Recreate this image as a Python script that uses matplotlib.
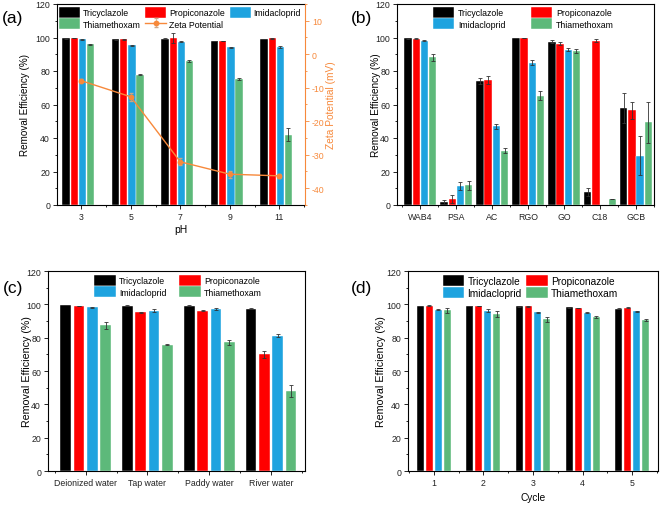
import matplotlib
matplotlib.use("Agg")
import matplotlib.pyplot as plt
import numpy as np
from matplotlib.ticker import MultipleLocator, FixedLocator

plt.rcParams['font.family'] = ['Liberation Sans', 'DejaVu Sans']
plt.rcParams['axes.unicode_minus'] = False

series = ["Tricyclazole", "Propiconazole", "Imidacloprid", "Thiamethoxam"]
colors = ["#000000", "#FF0000", "#1EA3DF", "#5DB97A"]
ZETA_C = "#F7893B"

# (a) pH
ph_labels = ["3", "5", "7", "9", "11"]
a_tri = [99.5, 99.0, 99.2, 98.0, 99.2]
a_pro = [99.8, 99.0, 99.5, 98.0, 99.5]
a_imi = [99.0, 95.5, 97.5, 94.3, 94.5]
a_thi = [96.0, 77.7, 86.0, 75.2, 42.0]
a_tri_err = [0.2, 0.2, 0.3, 0.2, 0.2]
a_pro_err = [0.2, 0.3, 3.0, 0.2, 0.3]
a_imi_err = [0.2, 0.3, 0.3, 0.3, 0.5]
a_thi_err = [0.3, 0.3, 0.4, 0.4, 4.0]
zeta = [-7.9, -12.7, -32.1, -35.8, -36.3]
zeta_err = [0.5, 1.2, 1.0, 1.0, 0.5]

# (b) adsorbents
b_labels = ["WAB4", "PSA", "AC", "RGO", "GO", "C18", "GCB"]
b_tri = [99.5, 1.5, 74.0, 99.7, 97.5, 7.7, 58.0]
b_pro = [99.2, 3.5, 74.8, 99.7, 96.3, 98.2, 56.5]
b_imi = [98.2, 11.3, 47.0, 85.0, 92.7, 0.0, 29.5]
b_thi = [88.2, 11.7, 32.5, 65.3, 92.0, 3.5, 49.3]
b_tri_err = [0.2, 1.5, 2.0, 0.2, 1.0, 2.5, 9.0]
b_pro_err = [0.3, 2.5, 2.5, 0.2, 1.0, 0.7, 5.0]
b_imi_err = [0.4, 2.5, 1.5, 1.5, 1.0, 0.0, 11.5]
b_thi_err = [2.0, 2.5, 1.5, 2.5, 1.0, 0.0, 12.0]

# (c) water matrices
c_labels = ["Deionized water", "Tap water", "Paddy water", "River water"]
c_tri = [99.5, 99.3, 99.3, 97.5]
c_pro = [99.0, 95.3, 96.2, 70.0]
c_imi = [98.2, 96.2, 97.2, 81.2]
c_thi = [87.5, 75.8, 77.2, 48.0]
c_tri_err = [0.1, 0.2, 0.2, 0.1]
c_pro_err = [0.2, 0.3, 0.3, 2.0]
c_imi_err = [0.4, 1.0, 0.4, 1.0]
c_thi_err = [2.0, 0.3, 1.5, 3.5]

# (d) cycles
d_labels = ["1", "2", "3", "4", "5"]
d_tri = [99.0, 99.0, 98.8, 98.2, 97.5]
d_pro = [99.2, 99.0, 98.8, 97.8, 98.0]
d_imi = [96.8, 96.3, 95.3, 95.0, 96.0]
d_thi = [96.5, 94.2, 91.2, 92.3, 90.5]
d_tri_err = [0.1, 0.1, 0.1, 0.1, 0.1]
d_pro_err = [0.2, 0.2, 0.2, 0.2, 0.2]
d_imi_err = [0.2, 0.7, 0.3, 0.3, 0.3]
d_thi_err = [1.5, 1.7, 1.5, 0.7, 0.7]

W, H = 661, 506
fig = plt.figure(figsize=(W / 100, H / 100), dpi=100)


def add_ax(l, r, t, b):
    return fig.add_axes([l / W, 1 - b / H, (r - l) / W, (b - t) / H])


def style_axis(ax, labels, xlim, tick_fs=6.3):
    n = len(labels)
    ax.set_xlim(*xlim)
    ax.set_ylim(0, 120)
    ax.set_xticks(range(n))
    ax.set_xticklabels(labels, fontsize=tick_fs)
    ax.xaxis.set_minor_locator(FixedLocator([i + 0.5 for i in range(-1, n)]))
    ax.yaxis.set_major_locator(MultipleLocator(20))
    ax.yaxis.set_minor_locator(MultipleLocator(10))
    ax.tick_params(axis='both', which='major', direction='out', length=3, width=0.6,
                   labelsize=tick_fs, pad=2, labelcolor='#222222')
    ax.tick_params(axis='both', which='minor', direction='out', length=1.7, width=0.6)
    ax.tick_params(axis='x', which='both', top=False)
    ax.tick_params(axis='y', which='both', right=False)
    for s in ax.spines.values():
        s.set_linewidth(0.8)


def draw_bars(ax, vals, errs, width, step, shift=0.0, ecolor='#333333'):
    n = len(vals[0])
    x = np.arange(n) + shift
    handles = []
    for k, (v, e) in enumerate(zip(vals, errs)):
        off = (k - 1.5) * step
        h = ax.bar(x + off, v, width, color=colors[k], edgecolor='white', linewidth=0.3,
                   yerr=e, error_kw=dict(ecolor=ecolor, elinewidth=0.6, capsize=1.6, capthick=0.6),
                   label=series[k], zorder=2)
        handles.append(h)
    return handles


def leg_order(h):
    # column-wise filling -> rows: Tri, Pro / Imi, Thi
    return [h[0], h[2], h[1], h[3]], [series[0], series[2], series[1], series[3]]


# ---- (a)
axa = add_ax(57, 305, 5, 206)
style_axis(axa, ph_labels, (-0.49, 4.52))
ha = draw_bars(axa, [a_tri, a_pro, a_imi, a_thi],
               [a_tri_err, a_pro_err, a_imi_err, a_thi_err], 0.15, 0.163, shift=-0.06)
axa.set_xlabel("pH", fontsize=7.5)
axa.xaxis.set_label_coords(0.5, -0.095)
axa.set_ylabel("Removal Efficiency (%)", fontsize=7.1)
axa.yaxis.set_label_coords(-0.109, 0.5)
axa.spines['right'].set_visible(False)
axz = axa.twinx()
axz.set_ylim(-45, 15)
axz.yaxis.set_major_locator(MultipleLocator(10))
axz.yaxis.set_minor_locator(MultipleLocator(5))
axz.tick_params(axis='y', which='major', direction='out', length=3, width=0.6,
                colors=ZETA_C, labelsize=6.3, pad=2)
axz.tick_params(axis='y', which='minor', direction='out', length=1.7, width=0.6, colors=ZETA_C)
axz.spines['right'].set_color(ZETA_C)
axz.spines['right'].set_linewidth(0.8)
for s in ['left', 'top', 'bottom']:
    axz.spines[s].set_visible(False)
zl = axz.errorbar(np.arange(len(zeta)), zeta, yerr=zeta_err, color=ZETA_C, lw=1.0,
                  marker='o', ms=3.2, mfc=ZETA_C, mec=ZETA_C, elinewidth=0.5, capsize=1.5,
                  ecolor='#C9A78A', label="Zeta Potential")
axz.set_ylabel("Zeta Potential (mV)", fontsize=7.3, color=ZETA_C)
axz.yaxis.set_label_coords(1.085, 0.5)
axa.legend([ha[0], ha[3], ha[1], zl, ha[2]],
           ["Tricyclazole", "Thiamethoxam", "Propiconazole", "Zeta Potential", "Imidacloprid"],
           ncol=3, loc='upper left', bbox_to_anchor=(0.005, 0.99), frameon=False,
           fontsize=6.3, handlelength=2.4, handleheight=1.5, handletextpad=0.35,
           labelspacing=0.1, columnspacing=0.5, borderpad=0.1, borderaxespad=0)

# ---- (b)
axb = add_ax(397, 654, 5, 206)
style_axis(axb, b_labels, (-0.65, 6.5))
hb = draw_bars(axb, [b_tri, b_pro, b_imi, b_thi],
               [b_tri_err, b_pro_err, b_imi_err, b_thi_err], 0.205, 0.228)
axb.set_ylabel("Removal Efficiency (%)", fontsize=7.2)
axb.yaxis.set_label_coords(-0.062, 0.5)
hh, ll = leg_order(hb)
axb.legend(hh, ll, ncol=2, loc='upper left', bbox_to_anchor=(0.135, 0.99), frameon=False,
           fontsize=6.3, handlelength=2.4, handleheight=1.5, handletextpad=0.5,
           labelspacing=0.1, columnspacing=2.9, borderpad=0.1, borderaxespad=0)

# ---- (c)
axc = add_ax(48, 305, 272, 472)
style_axis(axc, c_labels, (-0.61, 3.55))
hc = draw_bars(axc, [c_tri, c_pro, c_imi, c_thi],
               [c_tri_err, c_pro_err, c_imi_err, c_thi_err], 0.172, 0.216)
axc.set_ylabel("Removal Efficiency (%)", fontsize=7.7)
axc.yaxis.set_label_coords(-0.062, 0.5)
hh, ll = leg_order(hc)
axc.legend(hh, ll, ncol=2, loc='upper left', bbox_to_anchor=(0.175, 0.985), frameon=False,
           fontsize=6.3, handlelength=2.5, handleheight=1.5, handletextpad=0.4,
           labelspacing=0.1, columnspacing=1.4, borderpad=0.1, borderaxespad=0)

# ---- (d)
axd = add_ax(408, 658, 272, 472)
style_axis(axd, d_labels, (-0.52, 4.52))
hd = draw_bars(axd, [d_tri, d_pro, d_imi, d_thi],
               [d_tri_err, d_pro_err, d_imi_err, d_thi_err], 0.14, 0.182)
axd.set_xlabel("Cycle", fontsize=7.3)
axd.xaxis.set_label_coords(0.5, -0.105)
axd.set_ylabel("Removal Efficiency (%)", fontsize=7.7)
axd.yaxis.set_label_coords(-0.088, 0.5)
hh, ll = leg_order(hd)
axd.legend(hh, ll, ncol=2, loc='upper left', bbox_to_anchor=(0.135, 0.985), frameon=False,
           fontsize=7.3, handlelength=2.1, handleheight=1.25, handletextpad=0.35,
           labelspacing=0.1, columnspacing=0.45, borderpad=0.1, borderaxespad=0)

# panel letters
for txt, x, y in [("(a)", 13, 18), ("(b)", 362, 18), ("(c)", 13, 289), ("(d)", 362, 289)]:
    fig.text(x / W, 1 - y / H, txt, fontsize=12.5, ha='center', va='center')

fig.savefig("out.png", dpi=100)
